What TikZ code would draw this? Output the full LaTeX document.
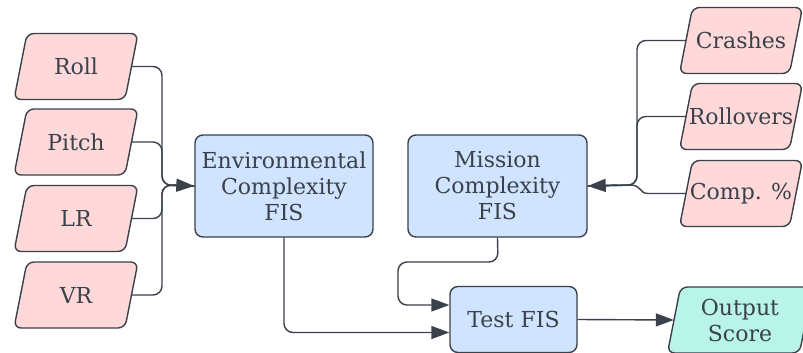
\documentclass[tikz,border=0pt]{standalone}
\usepackage{fontspec}
\setmainfont{DejaVu Serif}
\usetikzlibrary{arrows.meta,calc}
\definecolor{ink}{HTML}{3A414A}
\definecolor{pinkf}{HTML}{FFD9D9}
\definecolor{bluef}{HTML}{D0E4FF}
\definecolor{tealf}{HTML}{B8F4E8}
\tikzset{
  conn/.style={draw=ink,line width=1.4pt,rounded corners=9pt,-{Triangle[length=18pt,width=13pt]}},
  line/.style={draw=ink,line width=1.4pt,rounded corners=9pt},
  plainline/.style={draw=ink,line width=1.4pt},
  fisbox/.style={draw=ink,line width=1.4pt,fill=bluef,rounded corners=8pt,text=ink,
    align=center,font=\fontsize{22}{26}\selectfont,inner sep=0pt},
  paralab/.style={inner sep=0pt,text=ink,align=center,font=\fontsize{22}{26}\selectfont},
}
% \para{name}{cx}{cy}{width at mid}{height}{fill}{text}
\newcommand{\para}[7]{%
  \draw[draw=ink,line width=1.4pt,fill=#6,rounded corners=7pt]
    (#2-#4/2-6.5,#3+#5/2) -- (#2-#4/2+6.5,#3-#5/2) -- (#2+#4/2+6.5,#3-#5/2)
    -- (#2+#4/2-6.5,#3+#5/2) -- cycle;
  \node[paralab,minimum width=#4pt,minimum height=#5pt] (#1) at (#2,#3) {#7};
}
\begin{document}
\begin{tikzpicture}[x=1pt,y=-1pt]
\useasboundingbox (0,0) rectangle (803,353);
\clip (0,0) rectangle (803,353);
% left inputs
\para{roll}{76}{66.5}{111}{66}{pinkf}{Roll}
\para{pitch}{76}{142}{111}{66}{pinkf}{Pitch}
\para{lr}{76}{218.5}{111}{66}{pinkf}{LR}
\para{vr}{76}{295}{111}{66}{pinkf}{VR}
% right inputs
\para{crash}{741}{40.5}{110}{66}{pinkf}{Crashes}
\para{roll2}{741}{116.5}{110}{66}{pinkf}{Rollovers}
\para{comp}{741}{193.5}{110}{66}{pinkf}{Comp. \%}
% output
\para{out}{740}{320}{132}{66}{tealf}{Output\\Score}
% FIS boxes
\node[fisbox,minimum width=178pt,minimum height=102pt] (env) at (284,186)
  {Environmental\\Complexity\\FIS};
\node[fisbox,minimum width=179pt,minimum height=102pt] (mis) at (497.5,186)
  {Mission\\Complexity\\FIS};
\node[fisbox,minimum width=127pt,minimum height=66pt] (test) at (513.5,319.5)
  {Test FIS};
% junctions
\coordinate (jl) at (162,185);
\coordinate (jr) at (637,185);
\draw[line] (roll.east) -| (jl) -- (env.west);
\draw[line] (pitch.east) -| (jl) -- (env.west);
\draw[line] (lr.east) -| (jl) -- (env.west);
\draw[line] (vr.east) -| (jl) -- (env.west);
\draw[conn] ($(jl)+(10,0)$) -- (env.west);
\draw[line] (crash.west) -| (jr) -- (mis.east);
\draw[line] (roll2.west) -| (jr) -- (mis.east);
\draw[plainline] (comp.west) -- (648,193.5) .. controls (639,193.5) and (642,185) .. (630,185) -- (mis.east);
\draw[conn] ($(jr)+(-20,0)$) -- (mis.east);
% to test
\draw[conn] (env.south) |- ([yshift=-13pt]test.west);
\draw[conn] (mis.south) -- (498,262) -- (398,262) -- (398,305) -- ([yshift=14.5pt]test.west);
\draw[conn] (test.east) -- (out.west);
\end{tikzpicture}
\end{document}
